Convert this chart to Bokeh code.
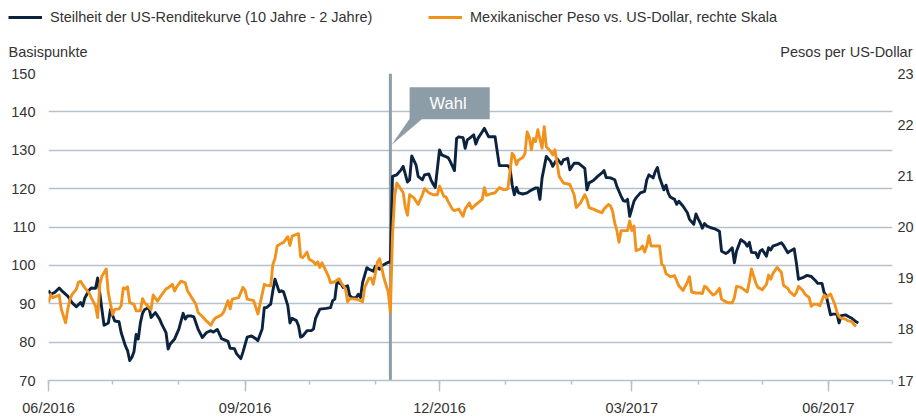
import pandas as pd
from bokeh.plotting import figure
from bokeh.layouts import column
from bokeh.models import (Range1d, LinearAxis, SingleIntervalTicker, FixedTicker, Span,
                          BoxAnnotation, PolyAnnotation, Label, Legend, LegendItem, ColumnDataSource)
from bokeh.embed import file_html
from bokeh.resources import INLINE

# ---------------- data ----------------
us_dates = [
    "2016-06-01","2016-06-02","2016-06-04","2016-06-06","2016-06-07","2016-06-10","2016-06-12","2016-06-14","2016-06-16","2016-06-17",
    "2016-06-18","2016-06-20","2016-06-21","2016-06-23","2016-06-24","2016-06-25","2016-06-26","2016-06-27","2016-06-29","2016-06-30",
    "2016-07-02","2016-07-04","2016-07-05","2016-07-07","2016-07-08","2016-07-09","2016-07-10","2016-07-11","2016-07-12","2016-07-13","2016-07-14",
    "2016-07-15","2016-07-16","2016-07-18","2016-07-19","2016-07-21","2016-07-23","2016-07-24","2016-07-26","2016-07-27","2016-07-28","2016-07-30",
    "2016-08-01","2016-08-03","2016-08-04","2016-08-05","2016-08-07","2016-08-08","2016-08-10","2016-08-12","2016-08-14","2016-08-16",
    "2016-08-17","2016-08-19","2016-08-21","2016-08-24","2016-08-25","2016-08-27","2016-08-28","2016-08-30","2016-08-31",
    "2016-09-02","2016-09-04","2016-09-06","2016-09-07","2016-09-09","2016-09-10","2016-09-11","2016-09-13","2016-09-14","2016-09-15","2016-09-17",
    "2016-09-18","2016-09-19","2016-09-21","2016-09-22","2016-09-23","2016-09-25","2016-09-26","2016-09-27","2016-09-28","2016-09-30",
    "2016-10-02","2016-10-03","2016-10-04","2016-10-06","2016-10-09","2016-10-11","2016-10-12","2016-10-13","2016-10-14","2016-10-16","2016-10-17",
    "2016-10-19","2016-10-20","2016-10-21","2016-10-23","2016-10-24","2016-10-25","2016-10-26","2016-10-28","2016-10-29","2016-10-31",
    "2016-11-01","2016-11-03","2016-11-04","2016-11-07","2016-11-08","2016-11-09","2016-11-10","2016-11-11","2016-11-13","2016-11-14","2016-11-16",
    "2016-11-17","2016-11-18","2016-11-20","2016-11-21","2016-11-23","2016-11-24","2016-11-26","2016-11-27","2016-11-28","2016-11-29",
    "2016-12-01","2016-12-02","2016-12-05","2016-12-06","2016-12-08","2016-12-09","2016-12-10","2016-12-12","2016-12-13","2016-12-14","2016-12-15",
    "2016-12-17","2016-12-18","2016-12-19","2016-12-21","2016-12-22","2016-12-24","2016-12-26","2016-12-27","2016-12-28","2016-12-29","2016-12-31",
    "2017-01-02","2017-01-03","2017-01-04","2017-01-05","2017-01-06","2017-01-07","2017-01-09","2017-01-11","2017-01-12","2017-01-15","2017-01-16",
    "2017-01-17","2017-01-18","2017-01-20","2017-01-22","2017-01-23","2017-01-25","2017-01-26","2017-01-27","2017-01-28","2017-01-30","2017-01-31",
    "2017-02-02","2017-02-04","2017-02-05","2017-02-07","2017-02-08","2017-02-09","2017-02-11","2017-02-13","2017-02-15","2017-02-16",
    "2017-02-17","2017-02-19","2017-02-21","2017-02-22","2017-02-24","2017-02-25","2017-02-26","2017-02-27","2017-02-28",
    "2017-03-02","2017-03-03","2017-03-05","2017-03-07","2017-03-08","2017-03-09","2017-03-11","2017-03-12","2017-03-13","2017-03-14","2017-03-16",
    "2017-03-17","2017-03-18","2017-03-19","2017-03-21","2017-03-22","2017-03-23","2017-03-25","2017-03-27","2017-03-28","2017-03-30","2017-03-31",
    "2017-04-01","2017-04-02","2017-04-03","2017-04-04","2017-04-05","2017-04-07","2017-04-09","2017-04-11","2017-04-12","2017-04-14","2017-04-15",
    "2017-04-17","2017-04-18","2017-04-19","2017-04-21","2017-04-23","2017-04-24","2017-04-25","2017-04-26","2017-04-28","2017-04-29","2017-04-30",
    "2017-05-01","2017-05-03","2017-05-04","2017-05-05","2017-05-06","2017-05-08","2017-05-10","2017-05-11","2017-05-13","2017-05-14","2017-05-16",
    "2017-05-17","2017-05-18","2017-05-20","2017-05-22","2017-05-24","2017-05-26","2017-05-27","2017-05-29","2017-05-30","2017-05-31",
    "2017-06-02","2017-06-03","2017-06-05","2017-06-06","2017-06-07","2017-06-09","2017-06-11","2017-06-12","2017-06-14","2017-06-15",
]
us_bp = [
    93.5, 92.4, 93.0, 94.1, 93.5, 92.0, 90.3, 89.2, 90.3, 89.4,
    91.5, 93.5, 94.1, 94.0, 96.7, 92.8, 88.5, 84.4, 85.0, 88.5,
    85.5, 85.3, 82.5, 79.0, 77.8, 75.2, 76.0, 77.5, 82.0, 80.8, 85.0,
    87.5, 88.5, 89.0, 86.4, 87.7, 86.0, 84.7, 82.5, 78.2, 79.5, 80.8,
    83.4, 87.5, 86.0, 86.8, 86.8, 86.6, 83.4, 81.2, 82.5, 83.0,
    82.6, 83.3, 80.9, 80.2, 78.4, 78.3, 77.0, 75.7, 77.4,
    81.3, 81.6, 80.9, 80.4, 83.4, 89.0, 89.0, 89.9, 93.4, 96.4, 93.1,
    93.4, 93.1, 89.5, 85.0, 86.2, 85.6, 84.3, 81.3, 81.6, 83.0,
    83.0, 83.4, 86.2, 88.6, 88.8, 89.0, 90.8, 91.2, 95.7, 95.1, 94.2,
    94.7, 92.1, 91.6, 91.6, 92.5, 91.6, 95.5, 99.4, 99.0, 98.5,
    99.8, 99.0, 99.9, 100.8, 100.8, 123.2, 123.4, 123.6, 124.9, 125.8, 121.7,
    122.3, 128.5, 126.2, 123.2, 122.3, 123.6, 123.8, 122.3, 121.2, 120.3,
    130.1, 128.8, 128.1, 127.1, 124.7, 133.1, 133.5, 133.3, 130.5, 132.7, 133.1,
    134.0, 131.6, 133.1, 134.8, 135.7, 133.5, 133.5, 133.5, 129.7, 126.0, 126.0,
    126.0, 125.3, 121.0, 118.4, 120.3, 118.9, 118.6, 118.9, 119.3, 120.2, 120.2,
    117.2, 122.8, 128.4, 127.1, 125.8, 127.8, 127.1, 126.4, 127.5, 127.9, 124.9,
    126.6, 126.6, 126.2, 125.3, 119.7, 121.5, 122.1, 123.2, 124.1, 124.7,
    122.9, 122.8, 122.3, 120.6, 118.0, 116.9, 116.7, 117.2, 112.8,
    116.7, 117.6, 118.9, 119.3, 122.3, 123.6, 122.8, 124.5, 125.5, 122.9, 119.7,
    120.9, 118.9, 117.8, 117.2, 115.9, 116.7, 115.4, 113.7, 112.0, 110.7, 113.4,
    112.2, 111.1, 109.7, 110.9, 110.3, 109.8, 109.5, 108.9, 103.7, 103.1, 103.4,
    104.6, 100.7, 103.7, 106.7, 105.9, 105.0, 106.0, 103.4, 103.3, 102.0, 103.7,
    104.1, 102.4, 104.6, 104.0, 105.0, 105.4, 105.9, 105.2, 103.3, 103.7, 104.3,
    100.7, 96.4, 96.8, 97.4, 97.1, 96.0, 95.3, 95.3, 92.9, 92.1,
    87.1, 87.3, 87.3, 85.0, 86.9, 87.1, 86.5, 86.2, 85.3, 85.0,
]

mxn_dates = [
    "2016-06-01","2016-06-02","2016-06-03","2016-06-06","2016-06-07","2016-06-09","2016-06-10","2016-06-11","2016-06-12","2016-06-14","2016-06-15",
    "2016-06-16","2016-06-18","2016-06-20","2016-06-21","2016-06-23","2016-06-24","2016-06-25","2016-06-26","2016-06-28","2016-06-29",
    "2016-07-01","2016-07-02","2016-07-04","2016-07-05","2016-07-06","2016-07-07","2016-07-08","2016-07-09","2016-07-11","2016-07-12","2016-07-14",
    "2016-07-15","2016-07-16","2016-07-19","2016-07-20","2016-07-22","2016-07-24","2016-07-26","2016-07-27","2016-07-29","2016-07-30","2016-07-31",
    "2016-08-02","2016-08-04","2016-08-05","2016-08-07","2016-08-09","2016-08-10","2016-08-12","2016-08-14","2016-08-16",
    "2016-08-17","2016-08-18","2016-08-21","2016-08-22","2016-08-24","2016-08-25","2016-08-26","2016-08-29","2016-08-31",
    "2016-09-01","2016-09-02","2016-09-05","2016-09-07","2016-09-08","2016-09-10","2016-09-11","2016-09-13","2016-09-14","2016-09-15",
    "2016-09-16","2016-09-18","2016-09-19","2016-09-21","2016-09-22","2016-09-23","2016-09-26","2016-09-27","2016-09-28","2016-09-30",
    "2016-10-01","2016-10-03","2016-10-04","2016-10-05","2016-10-06","2016-10-07","2016-10-10","2016-10-11","2016-10-13","2016-10-15","2016-10-16",
    "2016-10-18","2016-10-19","2016-10-20","2016-10-23","2016-10-25","2016-10-26","2016-10-27","2016-10-29","2016-10-30","2016-10-31",
    "2016-11-02","2016-11-03","2016-11-05","2016-11-07","2016-11-08","2016-11-09","2016-11-10","2016-11-11","2016-11-12","2016-11-14",
    "2016-11-15","2016-11-16","2016-11-17","2016-11-19","2016-11-21","2016-11-23","2016-11-24","2016-11-26","2016-11-28","2016-11-30",
    "2016-12-01","2016-12-03","2016-12-04","2016-12-05","2016-12-07","2016-12-08","2016-12-10","2016-12-11","2016-12-12","2016-12-13","2016-12-15",
    "2016-12-16","2016-12-18","2016-12-19","2016-12-21","2016-12-22","2016-12-23","2016-12-25","2016-12-27","2016-12-29","2016-12-31",
    "2017-01-01","2017-01-02","2017-01-03","2017-01-04","2017-01-05","2017-01-06","2017-01-07","2017-01-09","2017-01-10","2017-01-11","2017-01-12","2017-01-13","2017-01-14",
    "2017-01-15","2017-01-16","2017-01-18","2017-01-19","2017-01-20","2017-01-22","2017-01-23","2017-01-24","2017-01-25","2017-01-26","2017-01-28","2017-01-30","2017-01-31",
    "2017-02-02","2017-02-03","2017-02-05","2017-02-07","2017-02-08","2017-02-09","2017-02-11","2017-02-13","2017-02-15","2017-02-16",
    "2017-02-18","2017-02-19","2017-02-20","2017-02-21","2017-02-22","2017-02-23","2017-02-24","2017-02-26","2017-02-27","2017-02-28",
    "2017-03-01","2017-03-02","2017-03-03","2017-03-05","2017-03-06","2017-03-07","2017-03-08","2017-03-09","2017-03-10","2017-03-11","2017-03-14","2017-03-15",
    "2017-03-16","2017-03-17","2017-03-19","2017-03-21","2017-03-22","2017-03-23","2017-03-25","2017-03-27","2017-03-28","2017-03-29","2017-03-31",
    "2017-04-02","2017-04-03","2017-04-04","2017-04-05","2017-04-06","2017-04-08","2017-04-09","2017-04-11","2017-04-12","2017-04-13","2017-04-15",
    "2017-04-17","2017-04-18","2017-04-19","2017-04-21","2017-04-22","2017-04-24","2017-04-25","2017-04-26","2017-04-28","2017-04-29","2017-04-30",
    "2017-05-01","2017-05-03","2017-05-04","2017-05-05","2017-05-06","2017-05-08","2017-05-10","2017-05-11","2017-05-13","2017-05-14","2017-05-16",
    "2017-05-17","2017-05-18","2017-05-20","2017-05-21","2017-05-23","2017-05-24","2017-05-25","2017-05-27","2017-05-28","2017-05-30","2017-05-31",
    "2017-06-01","2017-06-02","2017-06-04","2017-06-05","2017-06-06","2017-06-07","2017-06-09","2017-06-10","2017-06-12","2017-06-13","2017-06-14",
]
mxn_rate = [
    18.52, 18.68, 18.62, 18.67, 18.39, 18.13, 18.39, 18.58, 18.68, 18.78, 18.92,
    18.94, 18.81, 18.71, 18.62, 18.46, 18.23, 18.88, 19.04, 19.18, 18.71,
    18.29, 18.39, 18.40, 18.46, 18.81, 18.79, 18.83, 18.52, 18.49, 18.36, 18.36,
    18.60, 18.52, 18.39, 18.67, 18.55, 18.68, 18.79, 18.81, 18.88, 18.75, 18.83,
    18.94, 18.91, 18.76, 18.62, 18.49, 18.33, 18.25, 18.16, 18.08,
    18.16, 18.22, 18.28, 18.34, 18.56, 18.40, 18.59, 18.62, 18.82,
    18.76, 18.59, 18.56, 18.30, 18.49, 18.88, 18.86, 18.85, 19.27, 19.38,
    19.63, 19.68, 19.70, 19.81, 19.64, 19.82, 19.87, 19.42, 19.40, 19.51,
    19.37, 19.32, 19.27, 19.32, 19.21, 19.30, 19.04, 18.91, 18.93, 18.99, 18.91,
    18.79, 18.54, 18.60, 18.59, 18.56, 18.54, 18.82, 19.00, 19.00, 18.88,
    19.32, 19.38, 19.00, 18.73, 18.34, 19.85, 20.60, 20.86, 20.80, 20.67,
    20.38, 20.23, 20.63, 20.57, 20.44, 20.63, 20.75, 20.67, 20.63, 20.63,
    20.80, 20.60, 20.59, 20.50, 20.35, 20.32, 20.35, 20.28, 20.21, 20.35, 20.47,
    20.36, 20.44, 20.47, 20.54, 20.77, 20.62, 20.65, 20.67, 20.77, 20.73,
    20.73, 20.75, 21.09, 21.44, 21.38, 21.22, 21.31, 21.36, 21.44, 21.86, 21.76, 21.51, 21.73,
    21.67, 21.90, 21.54, 21.96, 21.57, 21.48, 21.41, 21.51, 21.25, 20.99, 20.86, 20.84, 20.83,
    20.63, 20.38, 20.47, 20.63, 20.54, 20.38, 20.35, 20.31, 20.28, 20.35,
    20.44, 20.41, 20.31, 20.08, 19.93, 19.70, 19.93, 19.93, 19.93, 20.12,
    19.93, 20.02, 19.54, 19.57, 19.63, 19.51, 19.63, 19.83, 19.63, 19.63, 19.63, 19.27,
    19.24, 19.09, 19.03, 19.05, 18.95, 18.85, 18.76, 18.92, 19.03, 18.73, 18.71,
    18.71, 18.70, 18.84, 18.82, 18.76, 18.67, 18.69, 18.80, 18.59, 18.56, 18.52,
    18.52, 18.62, 18.84, 18.82, 18.79, 18.73, 18.93, 19.18, 18.91, 18.82, 18.80,
    18.77, 18.88, 19.06, 18.98, 19.09, 19.21, 19.11, 18.86, 18.80, 18.73, 18.66,
    18.72, 18.84, 18.76, 18.69, 18.62, 18.45, 18.49, 18.49, 18.46, 18.67, 18.62,
    18.66, 18.69, 18.49, 18.34, 18.25, 18.22, 18.20, 18.17, 18.15, 18.09, 18.06,
]

xtick_dates = ["2016-06-01", "2016-09-01", "2016-12-01", "2017-03-01", "2017-06-01"]
xtick_labels = ["06/2016", "09/2016", "12/2016", "03/2017", "06/2017"]
month_starts = ["2016-06-01", "2016-07-01", "2016-08-01", "2016-09-01", "2016-10-01", "2016-11-01",
                "2016-12-01", "2017-01-01", "2017-02-01", "2017-03-01", "2017-04-01", "2017-05-01",
                "2017-06-01", "2017-07-01"]
x_start, x_end = "2016-06-01", "2017-07-01"
election_date = "2016-11-08"

legend_us = "Steilheit der US-Renditekurve (10 Jahre - 2 Jahre)"
legend_mxn = "Mexikanischer Peso vs. US-Dollar, rechte Skala"
left_title = "Basispunkte"
right_title = "Pesos per US-Dollar"

# ---------------- styling ----------------
NAVY = "#0c2340"
ORANGE = "#f0921c"
GRID = "#b7c1ca"
TEXT = "#333333"
CALLOUT = "#8d9da8"
FONT = "Liberation Sans"
FS = "14.5px"
LW = 2.9


def ms(s):
    return pd.Timestamp(s).value / 1e6


us_src = ColumnDataSource(dict(x=pd.to_datetime(us_dates), y=us_bp))
mx_src = ColumnDataSource(dict(x=pd.to_datetime(mxn_dates), y=mxn_rate))

# ---------------- header (legend + axis titles) ----------------
head = figure(width=916, height=65, output_backend="svg", toolbar_location=None,
              x_axis_type="datetime",
              x_range=Range1d(ms("2000-01-01"), ms("2000-01-02")), y_range=Range1d(0, 1),
              x_axis_location=None, y_axis_location=None,
              min_border=0, min_border_left=0, min_border_right=0, min_border_top=0, min_border_bottom=0,
              outline_line_color=None, background_fill_color="white", border_fill_color="white")
head.frame_align = False
head.grid.visible = False
# legend carriers: same series, outside the header's view
h_us = head.line("x", "y", source=us_src, line_color=NAVY, line_width=LW)
h_mx = head.line("x", "y", source=mx_src, line_color=ORANGE, line_width=LW)
for item_label, rend, xloc in [(legend_us, h_us, 8), (legend_mxn, h_mx, 428)]:
    lg = Legend(items=[LegendItem(label=item_label, renderers=[rend])], location=(xloc, 38),
                orientation="horizontal", glyph_width=34, glyph_height=20, label_standoff=8,
                padding=0, margin=0, spacing=0, border_line_color=None, background_fill_alpha=0,
                label_text_font=FONT, label_text_font_size=FS, label_text_color=TEXT)
    head.add_layout(lg, "center")
head.add_layout(Label(x=8, y=13.5, x_units="screen", y_units="screen", text=left_title,
                      text_font=FONT, text_font_size=FS, text_color=TEXT, text_baseline="middle"))
head.add_layout(Label(x=912, y=13.5, x_units="screen", y_units="screen", text=right_title,
                      text_font=FONT, text_font_size=FS, text_color=TEXT, text_baseline="middle",
                      text_align="right"))

# ---------------- main chart ----------------
p = figure(width=916, height=353, output_backend="svg", toolbar_location=None,
           x_axis_type="datetime",
           x_range=Range1d(ms(x_start), ms(x_end)), y_range=Range1d(70, 150),
           min_border_left=48, min_border_right=24, min_border_top=8, min_border_bottom=36,
           background_fill_color="white", border_fill_color="white", outline_line_color=None)
p.frame_align = False
p.extra_y_ranges = {"mxn": Range1d(17, 23)}

p.add_layout(Span(location=ms(election_date), dimension="height", line_color="#8e9ca7",
                  line_width=3, level="underlay"))

p.line("x", "y", source=us_src, line_color=NAVY, line_width=LW, line_join="round")
p.line("x", "y", source=mx_src, line_color=ORANGE, line_width=LW, line_join="round",
       y_range_name="mxn")

p.xaxis.ticker = FixedTicker(ticks=[ms(d) for d in xtick_dates], minor_ticks=[ms(d) for d in month_starts])
p.xaxis.major_label_overrides = {ms(d): lab for d, lab in zip(xtick_dates, xtick_labels)}
p.xaxis.axis_line_color = GRID
p.xaxis.axis_line_width = 1.5
p.xaxis.major_tick_line_color = GRID
p.xaxis.major_tick_line_width = 1.5
p.xaxis.minor_tick_line_color = GRID
p.xaxis.minor_tick_line_width = 1.5
p.xaxis.major_tick_in = 0
p.xaxis.major_tick_out = 11
p.xaxis.minor_tick_in = 0
p.xaxis.minor_tick_out = 4
p.xaxis.major_label_standoff = 8

p.yaxis.ticker = SingleIntervalTicker(interval=10, num_minor_ticks=0)
p.yaxis.major_label_standoff = 13

raxis = LinearAxis(y_range_name="mxn", ticker=SingleIntervalTicker(interval=1, num_minor_ticks=0))
raxis.major_label_standoff = 5
p.add_layout(raxis, "right")

for ax in [p.yaxis[0], raxis]:
    ax.axis_line_color = None
    ax.major_tick_line_color = None
    ax.minor_tick_line_color = None
    ax.major_tick_in = 0
    ax.major_tick_out = 0
for ax in [p.xaxis[0], p.yaxis[0], raxis]:
    ax.major_label_text_font = FONT
    ax.major_label_text_font_size = FS
    ax.major_label_text_color = TEXT

p.xgrid.visible = False
p.ygrid.grid_line_color = GRID
p.ygrid.grid_line_width = 1.5

# callout "Wahl"
p.add_layout(BoxAnnotation(left=ms("2016-11-17"), right=ms("2016-12-24 12:00"), bottom=138.1, top=146.4,
                           fill_color=CALLOUT, fill_alpha=1.0, line_color=None))
p.add_layout(PolyAnnotation(xs=[ms("2016-11-17"), ms("2016-11-23"), ms("2016-11-08 12:00")],
                            ys=[138.2, 138.2, 131.4],
                            fill_color=CALLOUT, fill_alpha=1.0, line_color=None))
p.add_layout(Label(x=ms("2016-12-05"), y=142.3, text="Wahl", text_color="white",
                   text_font=FONT, text_font_size="16.5px", text_align="center", text_baseline="middle"))

layout = column(head, p, spacing=0)
open("out.html", "w").write(file_html(layout, INLINE))
